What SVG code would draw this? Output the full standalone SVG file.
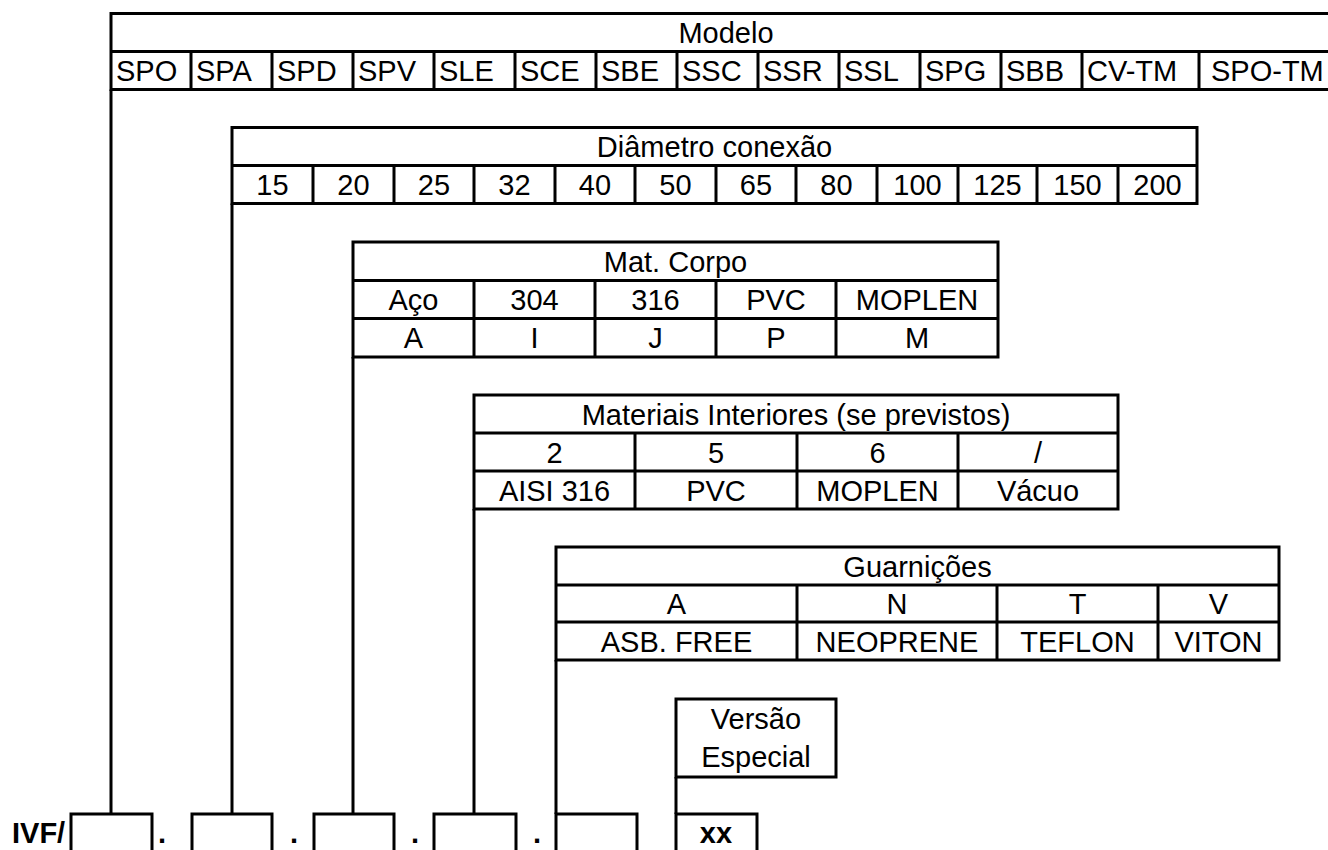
<svg xmlns="http://www.w3.org/2000/svg" width="1328" height="850" viewBox="0 0 1328 850">
<style>
.ln{stroke:#000;stroke-width:3;fill:none}
.t{font-family:"Liberation Sans",Arial,sans-serif;font-size:29px;fill:#000}
.c{text-anchor:middle}
.b{font-weight:bold}
</style>
<rect width="1328" height="850" fill="#fff"/>
<g id="modelo">
<path class="ln" d="M1340,13.5 H111 V89.5 H1340 M111,51.5 H1340 M191,51.5 V89.5 M272,51.5 V89.5 M353,51.5 V89.5 M434,51.5 V89.5 M515,51.5 V89.5 M596,51.5 V89.5 M677,51.5 V89.5 M758,51.5 V89.5 M839,51.5 V89.5 M920,51.5 V89.5 M1001,51.5 V89.5 M1082,51.5 V89.5 M1199,51.5 V89.5"/>
<text class="t c" x="726" y="43">Modelo</text>
<text class="t" x="116" y="81">SPO</text>
<text class="t" x="196" y="81">SPA</text>
<text class="t" x="277" y="81">SPD</text>
<text class="t" x="358" y="81">SPV</text>
<text class="t" x="439" y="81">SLE</text>
<text class="t" x="520" y="81">SCE</text>
<text class="t" x="601" y="81">SBE</text>
<text class="t" x="682" y="81">SSC</text>
<text class="t" x="763" y="81">SSR</text>
<text class="t" x="844" y="81">SSL</text>
<text class="t" x="925" y="81">SPG</text>
<text class="t" x="1006" y="81">SBB</text>
<text class="t" x="1087" y="81">CV-TM</text>
<text class="t" x="1211" y="81">SPO-TM</text>
</g>
<g id="diametro">
<path class="ln" d="M232,127.5 H1197 V203.5 H232 Z M232,165.5 H1197 M313,165.5 V203.5 M394,165.5 V203.5 M474,165.5 V203.5 M555,165.5 V203.5 M635,165.5 V203.5 M716,165.5 V203.5 M796,165.5 V203.5 M877,165.5 V203.5 M958,165.5 V203.5 M1037,165.5 V203.5 M1118,165.5 V203.5"/>
<text class="t c" x="714.5" y="157">Diâmetro conexão</text>
<text class="t c" x="272.5" y="195">15</text>
<text class="t c" x="353.5" y="195">20</text>
<text class="t c" x="434" y="195">25</text>
<text class="t c" x="514.5" y="195">32</text>
<text class="t c" x="595" y="195">40</text>
<text class="t c" x="675.5" y="195">50</text>
<text class="t c" x="756" y="195">65</text>
<text class="t c" x="836.5" y="195">80</text>
<text class="t c" x="917.5" y="195">100</text>
<text class="t c" x="997.5" y="195">125</text>
<text class="t c" x="1077.5" y="195">150</text>
<text class="t c" x="1157.5" y="195">200</text>
</g>
<g id="mat-corpo">
<path class="ln" d="M353,242 H998 V357 H353 Z M353,280.5 H998 M353,318.5 H998 M474,280.5 V357 M595,280.5 V357 M716,280.5 V357 M836,280.5 V357"/>
<text class="t c" x="675.5" y="272">Mat. Corpo</text>
<text class="t c" x="413.5" y="310">Aço</text>
<text class="t c" x="534.5" y="310">304</text>
<text class="t c" x="655.5" y="310">316</text>
<text class="t c" x="776" y="310">PVC</text>
<text class="t c" x="917" y="310">MOPLEN</text>
<text class="t c" x="413.5" y="348">A</text>
<text class="t c" x="534.5" y="348">I</text>
<text class="t c" x="655.5" y="348">J</text>
<text class="t c" x="776" y="348">P</text>
<text class="t c" x="917" y="348">M</text>
</g>
<g id="mat-interiores">
<path class="ln" d="M474,395 H1118 V509 H474 Z M474,433 H1118 M474,471 H1118 M635,433 V509 M797,433 V509 M958,433 V509"/>
<text class="t c" x="796" y="424.5">Materiais Interiores (se previstos)</text>
<text class="t c" x="554.5" y="462.5">2</text>
<text class="t c" x="716" y="462.5">5</text>
<text class="t c" x="877.5" y="462.5">6</text>
<text class="t c" x="1038" y="462.5">/</text>
<text class="t c" x="554.5" y="500.5">AISI 316</text>
<text class="t c" x="716" y="500.5">PVC</text>
<text class="t c" x="877.5" y="500.5">MOPLEN</text>
<text class="t c" x="1038" y="500.5">Vácuo</text>
</g>
<g id="guarnicoes">
<path class="ln" d="M556,547 H1279 V660 H556 Z M556,585 H1279 M556,622 H1279 M797,585 V660 M997,585 V660 M1158,585 V660"/>
<text class="t c" x="917.5" y="576.5">Guarnições</text>
<text class="t c" x="676.5" y="614">A</text>
<text class="t c" x="897" y="614">N</text>
<text class="t c" x="1077.5" y="614">T</text>
<text class="t c" x="1218.5" y="614">V</text>
<text class="t c" x="676.5" y="651.5">ASB. FREE</text>
<text class="t c" x="897" y="651.5">NEOPRENE</text>
<text class="t c" x="1077.5" y="651.5">TEFLON</text>
<text class="t c" x="1218.5" y="651.5">VITON</text>
</g>
<g id="versao">
<rect class="ln" x="676" y="699" width="160" height="78"/>
<text class="t c" x="756" y="729">Versão</text>
<text class="t c" x="756" y="767">Especial</text>
</g>
<g id="codigo">
<text class="t b" x="12" y="843">IVF/</text>
<path class="ln" d="M71,850 V814 H152 V850 M192,850 V814 H272 V850 M314,850 V814 H394 V850 M434,850 V814 H516 V850 M556,850 V814 H637 V850 M676,850 V814 H757 V850"/>
<text class="t b" x="158" y="843">.</text>
<text class="t b" x="290" y="843">.</text>
<text class="t b" x="411" y="843">.</text>
<text class="t b" x="533" y="843">.</text>
<text class="t b c" x="716" y="843">xx</text>
</g>
<g id="connectors">
<path class="ln" d="M111,89.5 V814 M232,203.5 V814 M353,357 V814 M474,509 V814 M556,660 V814 M676,777 V814"/>
</g>
</svg>
